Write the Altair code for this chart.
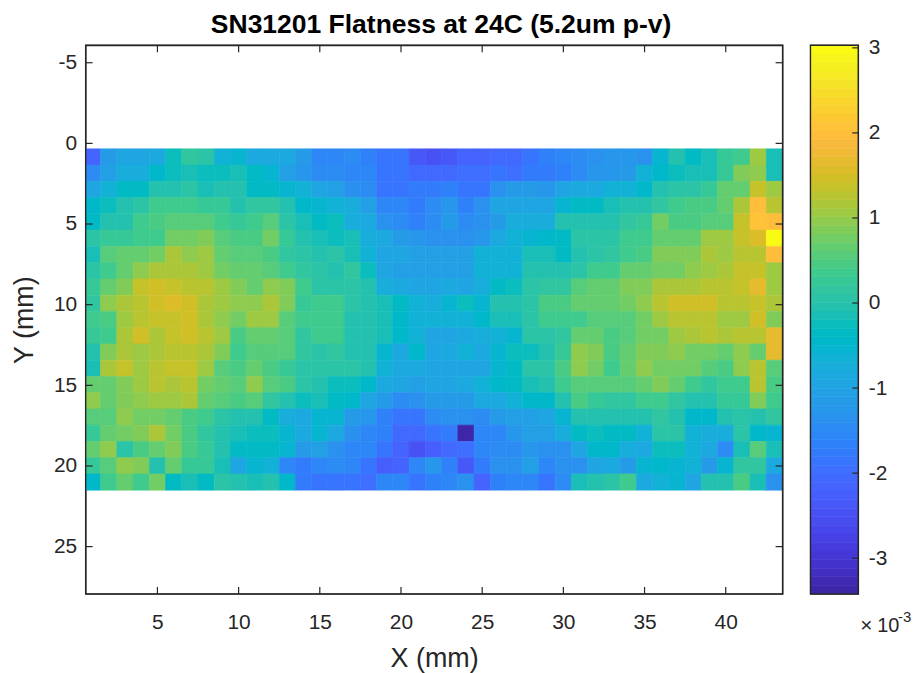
import altair as alt
import pandas as pd

FONT = "Liberation Sans"
INK = "#262626"

parula = [
    (0.2422,0.1504,0.6603),(0.2504,0.1650,0.7076),(0.2578,0.1818,0.7511),(0.2647,0.1978,0.7952),
    (0.2706,0.2147,0.8364),(0.2751,0.2342,0.8710),(0.2783,0.2559,0.8991),(0.2803,0.2782,0.9221),
    (0.2813,0.3006,0.9414),(0.2810,0.3228,0.9579),(0.2795,0.3447,0.9717),(0.2760,0.3667,0.9829),
    (0.2699,0.3892,0.9906),(0.2602,0.4123,0.9952),(0.2440,0.4358,0.9988),(0.2206,0.4603,0.9973),
    (0.1963,0.4847,0.9892),(0.1834,0.5074,0.9798),(0.1786,0.5289,0.9682),(0.1764,0.5499,0.9520),
    (0.1687,0.5703,0.9359),(0.1540,0.5902,0.9218),(0.1460,0.6091,0.9079),(0.1380,0.6276,0.8973),
    (0.1248,0.6459,0.8883),(0.1113,0.6635,0.8763),(0.0952,0.6798,0.8598),(0.0689,0.6948,0.8394),
    (0.0297,0.7082,0.8163),(0.0036,0.7203,0.7917),(0.0067,0.7312,0.7660),(0.0433,0.7411,0.7394),
    (0.0964,0.7500,0.7120),(0.1408,0.7584,0.6842),(0.1717,0.7670,0.6554),(0.1938,0.7758,0.6251),
    (0.2161,0.7843,0.5923),(0.2470,0.7918,0.5567),(0.2906,0.7973,0.5188),(0.3406,0.8008,0.4789),
    (0.3909,0.8029,0.4354),(0.4456,0.8024,0.3909),(0.5044,0.7993,0.3480),(0.5616,0.7942,0.3045),
    (0.6174,0.7876,0.2612),(0.6720,0.7793,0.2227),(0.7242,0.7698,0.1910),(0.7738,0.7598,0.1646),
    (0.8203,0.7498,0.1535),(0.8634,0.7406,0.1596),(0.9035,0.7330,0.1774),(0.9393,0.7288,0.2100),
    (0.9728,0.7298,0.2394),(0.9956,0.7434,0.2371),(0.9970,0.7659,0.2199),(0.9952,0.7861,0.1990),
    (0.9892,0.8137,0.1885),(0.9786,0.8386,0.1766),(0.9676,0.8639,0.1643),(0.9610,0.8901,0.1537),
    (0.9597,0.9176,0.1423),(0.9628,0.9373,0.1265),(0.9691,0.9606,0.1064),(0.9769,0.9839,0.0805),
]
palette = ["#%02x%02x%02x" % tuple(round(c * 255) for c in rgb) for rgb in parula]

# Flatness, in units of 1e-3, one list per row (Y = 1..21), 43 columns (X = 1..43)
r01 = [-2.2,-1.2,-1.0,-1.0,-0.9,-0.2,0.2,0.1,-0.65,-0.5,-0.9,-0.9,-0.85,-1.2,-1.55,-1.55,-1.5,-1.7,-1.9,-1.85,-2.4,-2.5,-2.35,-2.2,-2.2,-2.05,-2.1,-1.9,-1.7,-1.6,-1.5,-1.35,-1.25,-1.25,-1.35,-0.55,-0.05,-0.3,-0.1,0.25,0.35,1.1,-0.1]
r02 = [-1.45,-1.1,-0.7,-0.7,-0.45,-0.2,-0.1,-0.2,-0.2,-0.15,-0.3,-0.5,-1.1,-1.3,-1.45,-1.45,-1.6,-1.6,-1.85,-1.9,-2.1,-2.1,-2.1,-2.0,-2.0,-1.9,-1.95,-1.8,-1.75,-1.65,-1.5,-1.25,-1.25,-1.2,-0.6,-0.45,-0.25,-0.1,-0.1,0.3,0.85,0.95,-0.1]
r03 = [-1.0,-0.6,-0.35,-0.35,-0.05,-0.05,0.05,-0.1,0.0,-0.05,-0.3,-0.35,-0.5,-0.6,-1.0,-1.05,-1.35,-1.45,-1.85,-1.85,-1.8,-1.75,-1.7,-1.85,-1.85,-1.4,-1.2,-1.2,-1.25,-1.0,-0.8,-0.8,-0.6,-0.6,-0.4,0.0,0.05,0.05,0.3,0.65,0.7,1.35,1.05]
r04 = [-0.45,-0.2,-0.05,0.1,0.4,0.4,0.4,0.25,0.25,0.0,0.15,0.15,-0.05,-0.4,-0.55,-0.6,-0.75,-1.1,-1.6,-1.6,-1.75,-1.5,-1.3,-1.7,-1.4,-1.0,-1.0,-1.0,-1.0,-0.5,-0.3,-0.3,-0.15,-0.05,-0.05,0.2,0.35,0.45,0.45,0.65,1.15,1.95,1.3]
r05 = [-0.3,-0.05,0.0,0.4,0.45,0.6,0.6,0.6,0.35,0.25,0.4,0.6,0.05,-0.15,-0.3,-0.25,-0.75,-0.85,-1.35,-1.5,-1.7,-1.45,-1.2,-1.45,-1.35,-1.2,-0.7,-0.7,-0.7,-0.05,-0.05,-0.05,0.0,0.15,0.25,0.8,0.5,0.5,0.6,0.6,1.4,2.05,1.95]
r06 = [0.05,0.25,0.25,0.4,0.4,0.75,0.75,0.85,0.55,0.45,0.45,0.8,0.3,-0.05,-0.15,-0.2,-0.1,-0.7,-0.85,-1.2,-1.25,-1.35,-1.35,-1.35,-1.3,-0.85,-0.65,-0.55,-0.45,-0.35,0.05,0.05,0.1,0.35,0.35,0.7,0.7,0.7,1.1,1.1,1.35,1.6,3.0]
r07 = [-0.1,0.55,0.65,0.65,0.75,1.15,1.0,1.05,0.7,0.55,0.55,0.5,0.15,0.1,0.0,0.05,-0.1,-0.6,-1.0,-1.0,-1.05,-1.05,-1.05,-1.05,-0.6,-0.6,-0.6,-0.15,-0.1,-0.35,-0.05,0.1,0.2,0.4,0.5,0.85,0.85,0.85,1.2,1.05,1.25,1.25,1.95]
r08 = [0.05,0.4,0.7,1.0,1.2,1.2,1.2,1.05,0.8,0.65,0.7,0.6,0.35,0.15,0.05,0.0,0.15,-0.2,-1.0,-1.1,-1.05,-1.05,-1.05,-1.05,-0.6,-0.6,-0.6,0.0,0.0,0.0,0.05,0.35,0.4,0.7,0.7,0.75,0.8,1.0,1.05,1.2,1.4,1.4,1.05]
r09 = [0.3,0.65,0.9,1.35,1.45,1.35,1.3,1.3,1.05,0.9,0.7,1.0,0.9,0.35,0.1,0.1,0.1,0.0,-0.7,-0.9,-0.95,-0.95,-0.9,-0.95,-0.7,-0.35,-0.2,0.05,0.15,0.15,0.55,0.7,0.7,0.85,0.85,1.15,1.2,1.2,1.25,1.25,1.35,1.65,1.05]
r10 = [0.15,1.0,1.15,1.3,1.45,1.6,1.5,1.2,1.1,0.95,1.0,1.2,0.85,0.3,0.35,0.35,0.1,-0.05,-0.1,-0.35,-0.6,-0.75,-0.5,-0.25,-0.5,0.0,0.0,0.1,0.45,0.45,0.7,0.7,0.7,0.8,1.0,1.3,1.45,1.45,1.45,1.25,1.3,1.35,1.15]
r11 = [0.35,0.5,1.05,1.3,1.35,1.35,1.45,1.2,1.0,0.8,1.05,1.05,0.55,0.35,0.35,0.35,0.0,0.0,-0.1,-0.4,-0.6,-0.65,-0.65,-0.65,-0.4,-0.1,-0.1,0.05,0.4,0.35,0.4,0.6,0.6,0.55,0.75,1.1,1.3,1.3,1.3,1.05,1.05,1.5,0.85]
r12 = [0.25,0.35,1.2,1.45,1.15,1.35,1.45,1.3,1.05,0.5,0.7,0.7,0.6,0.15,0.35,0.35,0.0,0.0,-0.1,-0.4,-0.6,-0.95,-0.95,-0.85,-0.75,-0.6,-0.5,0.1,0.1,0.15,0.65,0.65,0.45,0.6,0.75,0.75,1.05,1.2,1.3,1.15,1.3,1.3,1.65]
r13 = [-0.05,0.85,1.2,1.05,1.15,1.25,1.25,1.2,0.85,0.4,0.6,0.6,0.6,0.15,0.05,0.15,0.0,0.0,-0.55,-0.9,-0.45,-0.95,-0.85,-0.65,-0.9,-0.55,-0.2,-0.2,-0.05,0.3,1.0,0.85,0.5,0.65,0.85,0.85,1.0,0.8,0.8,0.65,0.95,0.65,1.65]
r14 = [-0.1,1.15,1.35,1.05,1.25,1.4,1.4,1.1,0.6,0.5,0.65,0.5,0.3,0.05,0.05,0.05,0.05,0.0,-0.6,-0.85,-0.85,-1.0,-1.0,-0.95,-0.95,-0.5,-0.3,0.05,0.1,0.5,0.95,0.75,0.4,0.65,1.0,0.8,0.8,0.8,0.55,0.45,0.95,1.25,0.6]
r15 = [0.7,0.7,0.85,1.05,1.3,1.15,1.25,0.8,0.65,0.55,1.0,0.6,0.5,0.1,-0.05,-0.2,-0.2,-0.4,-0.8,-1.0,-1.1,-0.95,-0.95,-0.9,-0.6,-0.45,-0.3,-0.1,0.0,0.35,0.6,0.6,0.6,0.6,0.7,0.85,0.65,0.35,0.2,0.35,0.4,1.3,0.5]
r16 = [0.95,0.7,0.9,0.95,1.1,1.05,1.15,0.7,0.55,0.5,0.6,0.2,-0.05,-0.2,-0.1,-0.35,-0.45,-1.0,-1.2,-1.5,-1.4,-1.2,-1.2,-1.2,-0.85,-0.8,-0.6,-0.4,-0.45,-0.05,0.45,0.3,0.2,0.15,0.35,0.35,0.2,0.0,0.0,0.25,0.3,0.9,0.4]
r17 = [0.6,0.6,0.95,0.75,0.8,0.7,0.5,0.4,0.1,-0.05,0.0,-0.3,-0.7,-0.85,-0.5,-0.5,-1.15,-1.3,-1.65,-1.85,-1.85,-1.45,-1.35,-1.35,-1.5,-1.2,-1.1,-1.05,-0.95,-0.5,0.0,-0.05,-0.05,-0.05,-0.05,0.15,-0.05,-0.4,-0.4,-0.05,0.1,-0.05,0.2]
r18 = [0.25,0.65,0.8,0.85,1.15,0.8,0.5,0.2,-0.05,-0.1,-0.2,-0.2,-0.55,-0.8,-0.55,-0.8,-1.4,-1.55,-1.7,-2.05,-2.1,-1.85,-1.75,-3.4,-1.6,-1.55,-1.25,-1.05,-1.1,-0.75,-0.35,-0.2,-0.35,-0.35,-0.6,0.05,0.05,-0.6,-0.7,-0.7,0.05,-0.4,-0.5]
r19 = [0.65,1.0,0.1,0.45,0.7,0.85,0.5,0.25,-0.05,-0.35,-0.35,-0.3,-0.55,-1.15,-1.1,-1.4,-1.6,-1.6,-1.85,-2.2,-2.5,-2.3,-2.05,-2.0,-1.55,-1.45,-1.5,-1.3,-1.35,-1.35,-0.95,-0.4,-0.45,-0.7,-0.85,-0.25,-0.25,-0.65,-0.85,-1.5,-0.15,0.55,-0.15]
r20 = [0.3,0.6,0.95,0.85,0.0,0.7,0.3,0.3,-0.1,-1.0,-0.5,-0.6,-1.55,-1.75,-1.55,-1.5,-1.55,-1.9,-2.3,-2.15,-1.55,-1.3,-1.65,-2.4,-1.8,-1.4,-1.4,-1.05,-1.6,-1.4,-1.4,-1.0,-0.9,-1.15,-0.55,-0.4,-0.5,-0.65,-1.2,-0.5,0.15,0.15,-0.8]
r21 = [-0.4,0.4,0.7,0.4,0.75,-0.3,-0.1,-0.3,0.1,-0.05,-0.1,-0.05,-0.45,-1.75,-1.9,-1.9,-1.9,-2.0,-1.55,-1.55,-1.85,-1.7,-1.6,-1.4,-2.15,-1.7,-1.6,-1.6,-1.9,-1.5,-0.15,-0.05,0.1,0.4,-0.85,-0.65,-0.55,-0.95,-0.05,-0.05,0.5,-0.1,-1.4]
rows = [r01,r02,r03,r04,r05,r06,r07,r08,r09,r10,r11,r12,r13,r14,r15,r16,r17,r18,r19,r20,r21]

x_ticks = [5, 10, 15, 20, 25, 30, 35, 40]
y_ticks = [-5, 0, 5, 10, 15, 20, 25]
c_ticks = [-3, -2, -1, 0, 1, 2, 3]
title_text = "SN31201 Flatness at 24C (5.2um p-v)"

C_MIN, C_MAX = -3.42, 3.03
X_DOM = [0.58, 43.5]
Y_DOM = [-6.08, 27.93]
Y_TOP, Y_BOTTOM = 0.34, 21.5
W, H = 700, 551
BAR_W = 48
TICK = 7

row_h = (Y_BOTTOM - Y_TOP) / len(rows)
cells = pd.DataFrame(
    [
        {"x0": c + 0.5, "x1": c + 1.5, "y0": Y_TOP + r * row_h, "y1": Y_TOP + (r + 1) * row_h, "v": v}
        for r, row in enumerate(rows)
        for c, v in enumerate(row)
    ]
)

color_scale = alt.Scale(type="quantize", domain=[C_MIN, C_MAX], range=palette)
x_scale = alt.Scale(domain=X_DOM, nice=False, zero=False)
y_scale = alt.Scale(domain=Y_DOM[::-1], nice=False, zero=False)


def lab_axis(title, values, orient=None, pad=8, tpad=4):
    kw = dict(
        title=title, values=values, tickSize=0, domain=False, grid=False,
        labelExpr="'' + datum.value",
        labelFont=FONT, labelFontSize=21, labelColor=INK, labelPadding=pad,
        titleFont=FONT, titleFontSize=27, titleColor=INK, titleFontWeight="normal",
        titlePadding=tpad, labelFlush=False,
    )
    if orient:
        kw["orient"] = orient
    return alt.Axis(**kw)


def frame(w, h):
    return alt.Chart(pd.DataFrame({"f": [0]})).mark_rect(filled=False, stroke=INK, strokeWidth=1.4).encode(
        x=alt.value(0), x2=alt.value(w), y=alt.value(0), y2=alt.value(h)
    )


x_axis = lab_axis("X (mm)", x_ticks, pad=18, tpad=13)
y_axis = lab_axis("Y (mm)", y_ticks, pad=9, tpad=15)
c_axis = lab_axis(None, c_ticks, orient="right", pad=10)

heat = alt.Chart(cells).mark_rect(clip=True, strokeWidth=0.6).encode(
    x=alt.X("x0:Q", scale=x_scale, axis=x_axis),
    x2="x1:Q",
    y=alt.Y("y0:Q", scale=y_scale, axis=y_axis),
    y2="y1:Q",
    color=alt.Color("v:Q", scale=color_scale, legend=None),
    stroke=alt.Color("v:Q", scale=color_scale, legend=None),
)

xt = pd.DataFrame({"t": x_ticks})
yt = pd.DataFrame({"t": y_ticks})
tick_marks = [
    alt.Chart(xt).mark_rule(color=INK, strokeWidth=1.2).encode(x=alt.X("t:Q", scale=x_scale, axis=x_axis), y=alt.value(0), y2=alt.value(TICK)),
    alt.Chart(xt).mark_rule(color=INK, strokeWidth=1.2).encode(x=alt.X("t:Q", scale=x_scale, axis=x_axis), y=alt.value(H), y2=alt.value(H - TICK)),
    alt.Chart(yt).mark_rule(color=INK, strokeWidth=1.2).encode(y=alt.Y("t:Q", scale=y_scale, axis=y_axis), x=alt.value(0), x2=alt.value(TICK)),
    alt.Chart(yt).mark_rule(color=INK, strokeWidth=1.2).encode(y=alt.Y("t:Q", scale=y_scale, axis=y_axis), x=alt.value(W), x2=alt.value(W - TICK)),
]

main = alt.layer(heat, *tick_marks, frame(W, H)).properties(
    width=W,
    height=H,
    title=alt.TitleParams(title_text, font=FONT, fontSize=26.6, fontWeight="bold", color="#000000", anchor="middle", dx=7, offset=6),
)

# Colour bar
step = (C_MAX - C_MIN) / len(palette)
bar_df = pd.DataFrame(
    [{"a": C_MIN + i * step, "b": C_MIN + (i + 1) * step, "m": C_MIN + (i + 0.5) * step} for i in range(len(palette))]
)
c_scale_y = alt.Scale(domain=[C_MIN, C_MAX], nice=False, zero=False)
bar = alt.Chart(bar_df).mark_rect(strokeWidth=0.6, clip=True).encode(
    y=alt.Y("a:Q", scale=c_scale_y, axis=c_axis),
    y2="b:Q",
    x=alt.value(0),
    x2=alt.value(BAR_W),
    color=alt.Color("m:Q", scale=color_scale, legend=None),
    stroke=alt.Color("m:Q", scale=color_scale, legend=None),
)
bar_ticks = alt.Chart(pd.DataFrame({"t": c_ticks})).mark_rule(color=INK, strokeWidth=1.2).encode(
    y=alt.Y("t:Q", scale=c_scale_y, axis=c_axis), x=alt.value(BAR_W), x2=alt.value(BAR_W - 6)
)
exp_times = alt.Chart(pd.DataFrame({"s": ["\u00d7"]})).mark_text(
    font=FONT, fontSize=21, color=INK, align="left", baseline="alphabetic"
).encode(text="s:N", x=alt.value(50), y=alt.value(589))
exp_base = alt.Chart(pd.DataFrame({"s": ["10"]})).mark_text(
    font=FONT, fontSize=20, color=INK, align="left", baseline="alphabetic"
).encode(text="s:N", x=alt.value(67), y=alt.value(589))
exp_pow = alt.Chart(pd.DataFrame({"s": ["-3"]})).mark_text(
    font=FONT, fontSize=15, color=INK, align="left", baseline="alphabetic"
).encode(text="s:N", x=alt.value(88), y=alt.value(579))

cbar = alt.layer(bar, bar_ticks, frame(BAR_W, H), exp_times, exp_base, exp_pow).properties(width=BAR_W, height=H)

chart = (
    alt.hconcat(main, cbar, spacing=24)
    .resolve_scale(color="independent", x="independent", y="independent")
    .properties(padding={"left": 1, "top": 2, "right": 0, "bottom": 0}, background="white")
    .configure_view(stroke=INK, strokeWidth=1.3)
    .configure_concat(spacing=24)
)

chart.save("out.html", embed_options={"renderer": "svg", "actions": False})
